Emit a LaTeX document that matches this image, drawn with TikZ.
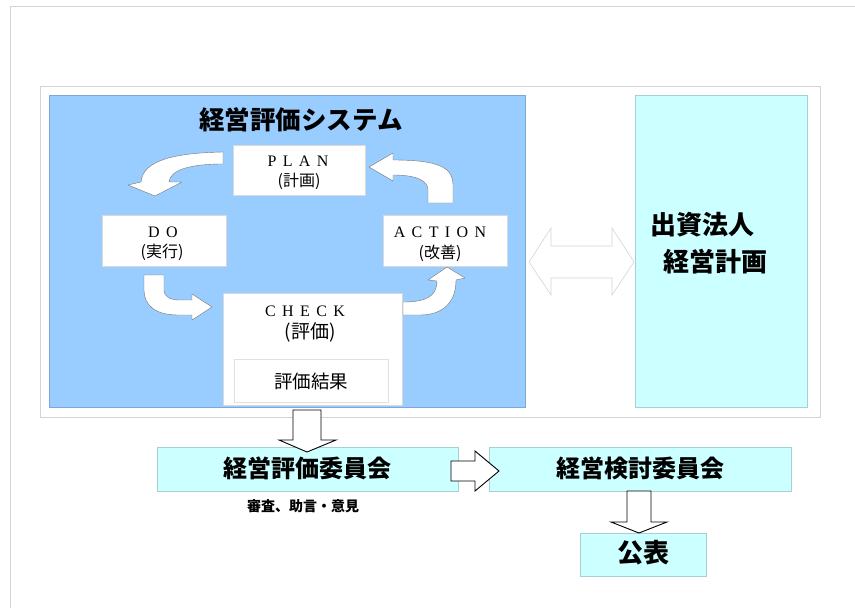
\documentclass[tikz,border=0pt]{standalone}
\usepackage{fontspec}
\newfontfamily\cjk{Noto Sans CJK JP}
\newfontfamily\latin[WordSpace=1.6]{Liberation Serif}
\definecolor{sysblue}{HTML}{99CCFF}
\definecolor{sysblueedge}{HTML}{7FA6D6}
\definecolor{lcyan}{HTML}{CCFFFF}
\definecolor{cyanedge}{HTML}{A8D0D4}
\definecolor{frame}{HTML}{D4D4D4}
\tikzset{
  pdcabox/.style={draw=white!85!black,fill=white,line width=0.5pt,align=center,inner sep=0pt},
  cyanbox/.style={draw=cyanedge,fill=lcyan,line width=0.6pt,inner sep=0pt},
  curvarrow/.style={fill=white,draw=black!55,line width=0.4pt,line join=round},
  blockarrow/.style={fill=white,draw=black,line width=0.9pt,line join=miter},
  bigtxt/.style={font=\cjk\bfseries\fontsize{24}{26}\selectfont},
  latintxt/.style={font=\latin\fontsize{16}{18}\selectfont},
  jptxt/.style={font=\cjk\fontsize{16}{18}\selectfont},
}
\begin{document}
\begin{tikzpicture}[x=1pt,y=-1pt]
\useasboundingbox (0,0) rectangle (855,608);
% page frame
\draw[frame,line width=0.8pt] (855,6) -- (10,6) -- (10,608);
% outer box
\node[draw=frame,line width=0.8pt,minimum width=780pt,minimum height=331pt,inner sep=0pt] (outer) at (430,251.5) {};
% blue system box
\node[draw=sysblueedge,fill=sysblue,line width=0.6pt,minimum width=476pt,minimum height=312pt,inner sep=0pt] (sys) at (287,251) {};
\node[font=\cjk\bfseries\fontsize{25.5}{28}\selectfont] (title) at (301,120) {経営評価システム};
% right cyan box
\node[cyanbox,minimum width=172pt,minimum height=312pt] (plan2) at (721,251) {};
\node[font=\cjk\bfseries\fontsize{26}{28}\selectfont,anchor=west] (plana) at (647,225) {出資法人};
\node[font=\cjk\bfseries\fontsize{26}{28}\selectfont,anchor=west] (planb) at (660,262) {経営計画};
% PDCA boxes
\node[pdcabox,minimum width=132pt,minimum height=50pt] (plan) at (299,170.5) {};
\node[latintxt] at (298,161) {P L A N};
\node[jptxt] at (299,181) {(計画)};
\node[pdcabox,minimum width=124pt,minimum height=51pt] (do) at (164,240.5) {};
\node[latintxt] at (163,232) {D O};
\node[jptxt] at (162,252) {(実行)};
\node[pdcabox,minimum width=124pt,minimum height=51pt] (act) at (445,240.5) {};
\node[latintxt] at (440,232) {A C T I O N};
\node[jptxt] at (440,253) {(改善)};
\node[pdcabox,minimum width=179pt,minimum height=112pt] (check) at (312.5,349) {};
\node[latintxt] at (305,311) {C H E C K};
\node[font=\cjk\fontsize{19}{21}\selectfont] at (310,332) {(評価)};
\node[draw=white!88!black,fill=white,line width=0.5pt,minimum width=154pt,minimum height=43pt,inner sep=0pt] (result) at (311,380.5) {};
\node[font=\cjk\fontsize{18.5}{20}\selectfont] at (311,381) {評価結果};
% curved block arrows
% PLAN -> DO
\draw[curvarrow] (223,152) .. controls (175,153) and (143,160) .. (141,182)
  -- (128,185) -- (155,196) -- (182,182) -- (169,182)
  .. controls (170,170) and (190,164) .. (223,164) -- cycle;
% ACTION -> PLAN
\draw[curvarrow] (369,167) -- (393,153) -- (393,160)
  .. controls (440,160) and (453,168) .. (453,185) -- (453,203) -- (428,203) -- (428,190)
  .. controls (428,180) and (415,175) .. (393,175) -- (393,181) -- cycle;
% DO -> CHECK
\draw[curvarrow] (144,275) -- (164,275) -- (164,290)
  .. controls (164,297) and (170,300) .. (180,300) -- (192,300) -- (192,294)
  -- (212,307) -- (192,320) -- (192,315) -- (178,315)
  .. controls (155,315) and (144,305) .. (144,290) -- cycle;
% CHECK -> ACTION
\draw[curvarrow] (403,302) .. controls (425,302) and (437,297) .. (437,281)
  -- (428,280) -- (447,267) -- (465,278) -- (456,280)
  .. controls (456,305) and (440,315) .. (420,315) -- (403,315) -- cycle;
% double arrow between system and plan
\draw[draw=frame,fill=white,line width=0.6pt] (529,262) -- (551,228) -- (551,246) -- (612,246) -- (612,228)
  -- (634,262) -- (612,295) -- (612,278) -- (551,278) -- (551,295) -- cycle;
% committees
\node[cyanbox,minimum width=301pt,minimum height=44pt] (eval) at (307.5,469) {};
\node[bigtxt] at (307.5,468) {経営評価委員会};
\node[font=\cjk\bfseries\fontsize{14}{16}\selectfont] (advice) at (303,506) {審査、助言・意見};
\node[cyanbox,minimum width=302pt,minimum height=44pt] (study) at (640,469) {};
\node[bigtxt] at (640,468) {経営検討委員会};
\node[cyanbox,minimum width=126pt,minimum height=43pt] (pub) at (643.5,554.5) {};
\node[font=\cjk\bfseries\fontsize{26}{28}\selectfont] at (643,553) {公表};
% straight block arrows
\draw[blockarrow] (293,410) -- (321,410) -- (321,440) -- (336,440) -- (307,452)
  -- (279,440) -- (293,440) -- cycle;
\draw[blockarrow] (451,461) -- (475,461) -- (475,451) -- (499,471) -- (475,491)
  -- (475,481) -- (451,481) -- cycle;
\draw[blockarrow] (627,491) -- (651,491) -- (651,522) -- (667,522) -- (639,533)
  -- (611,522) -- (627,522) -- cycle;
\end{tikzpicture}
\end{document}
